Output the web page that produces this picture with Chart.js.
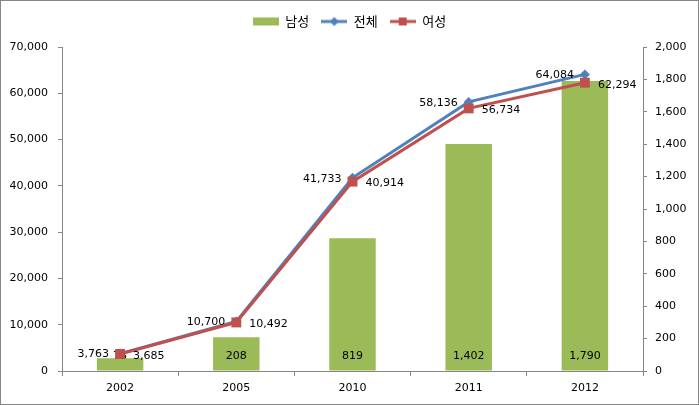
<!DOCTYPE html>
<html>
<head>
<meta charset="utf-8">
<script src="https://cdn.jsdelivr.net/npm/chart.js@4.4.1/dist/chart.umd.min.js"></script>
<style>
html, body { margin: 0; padding: 0; background: #fff; }
#wrap { width: 697px; height: 403px; border: 1px solid #868686; }
</style>
</head>
<body>
<div id="wrap"><canvas id="chart" width="697" height="403"></canvas></div>
<script>
// data
var years = ['2002', '2005', '2010', '2011', '2012'];
var male = [78, 208, 819, 1402, 1790];          // 남성 (right axis)
var total = [3763, 10700, 41733, 58136, 64084]; // 전체 (left axis)
var female = [3685, 10492, 40914, 56734, 62294]; // 여성 (left axis)
var leftMax = 70000, leftStep = 10000;
var rightMax = 2000, rightStep = 200;

var GREEN = '#9BBB59', BLUE = '#4F81BD', RED = '#C0504D', AXIS = '#868686';
var numFont = { family: '"DejaVu Sans", Verdana, sans-serif', size: 11 };

function legendIcon(kind) {
    var c = document.createElement('canvas');
    c.width = 26; c.height = 12;
    var g = c.getContext('2d');
    if (kind === 'bar') {
        g.fillStyle = GREEN;
        g.fillRect(0, 2, 26, 8);
    } else {
        var col = kind === 'total' ? BLUE : RED;
        g.strokeStyle = col; g.lineWidth = 3;
        g.beginPath(); g.moveTo(0, 6); g.lineTo(26, 6); g.stroke();
        g.fillStyle = col;
        if (kind === 'total') {
            g.beginPath(); g.moveTo(13, 1.5); g.lineTo(17.5, 6); g.lineTo(13, 10.5); g.lineTo(8.5, 6); g.closePath(); g.fill();
        } else {
            g.fillRect(9, 2, 8, 8);
        }
    }
    return c;
}
var icons = [legendIcon('bar'), legendIcon('total'), legendIcon('female')];

// leave a gap under the legend, like the Excel original
var legendGap = {
    id: 'legendGap',
    afterInit: function (chart) {
        var lg = chart.legend;
        var fit = lg.fit;
        lg.fit = function () { fit.call(this); this.height += 9; };
    }
};

var valueLabels = {
    id: 'valueLabels',
    afterDatasetDraw: function (chart, args) {
        var ctx = chart.ctx;
        var ds = chart.data.datasets[args.index];
        ctx.save();
        ctx.font = numFont.size + 'px ' + numFont.family;
        ctx.fillStyle = '#000';
        ctx.textBaseline = 'middle';
        args.meta.data.forEach(function (el, j) {
            var txt = ds.data[j].toLocaleString('en-US');
            if (ds.type === 'bar') {
                ctx.textAlign = 'center';
                ctx.fillText(txt, el.x, el.base - 14);
            } else if (args.index === 1) {
                ctx.textAlign = 'right';
                ctx.fillText(txt, el.x - 11, el.y + 1);
            } else {
                ctx.textAlign = 'left';
                ctx.fillText(txt, el.x + 13, el.y + 2);
            }
        });
        ctx.restore();
    }
};

var ctx = document.getElementById('chart').getContext('2d');
var myChart = new Chart(ctx, {
    data: {
        labels: years,
        datasets: [{
            type: 'bar',
            label: '남성',
            data: male,
            yAxisID: 'yR',
            backgroundColor: GREEN,
            barPercentage: 0.8,
            categoryPercentage: 0.5,
            order: 3
        }, {
            type: 'line',
            label: '전체',
            data: total,
            yAxisID: 'yL',
            borderColor: BLUE,
            backgroundColor: BLUE,
            borderWidth: 3,
            pointStyle: 'rectRot',
            pointRadius: 5,
            pointBorderWidth: 0,
            tension: 0,
            order: 2
        }, {
            type: 'line',
            label: '여성',
            data: female,
            yAxisID: 'yL',
            borderColor: RED,
            backgroundColor: RED,
            borderWidth: 3,
            pointStyle: 'rect',
            pointRadius: 7,
            pointBorderWidth: 0,
            tension: 0,
            order: 1
        }]
    },
    options: {
        responsive: false,
        animation: false,
        layout: { padding: { top: 2 } },
        plugins: {
            tooltip: { enabled: false },
            legend: {
                position: 'top',
                labels: {
                    usePointStyle: true,
                    pointStyleWidth: 26,
                    padding: 12,
                    color: '#000',
                    font: { family: '"Noto Sans CJK KR", sans-serif', size: 13 },
                    generateLabels: function (chart) {
                        return chart.data.datasets.map(function (ds, i) {
                            return { text: ds.label, pointStyle: icons[i], datasetIndex: i, hidden: false, lineWidth: 0, fontColor: '#000' };
                        });
                    }
                }
            }
        },
        scales: {
            x: {
                grid: { drawOnChartArea: false, drawTicks: true, tickLength: 5, color: AXIS, offset: true },
                border: { color: AXIS },
                ticks: { color: '#000', font: numFont, padding: 6 },
                afterFit: function (s) { s.height = 33; }
            },
            yL: {
                position: 'left',
                min: 0, max: leftMax,
                grid: { drawOnChartArea: false, drawTicks: true, tickLength: 4, color: AXIS },
                border: { color: AXIS },
                ticks: {
                    stepSize: leftStep, color: '#000', font: numFont, padding: 10,
                    callback: function (v) { return v.toLocaleString('en-US'); }
                },
                afterFit: function (s) { s.width = 61; }
            },
            yR: {
                position: 'right',
                min: 0, max: rightMax,
                grid: { drawOnChartArea: false, drawTicks: true, tickLength: 4, color: AXIS },
                border: { color: AXIS },
                ticks: {
                    stepSize: rightStep, color: '#000', font: numFont, padding: 8,
                    callback: function (v) { return v.toLocaleString('en-US'); }
                },
                afterFit: function (s) { s.width = 55; }
            }
        }
    },
    plugins: [legendGap, valueLabels]
});
</script>
</body>
</html>
